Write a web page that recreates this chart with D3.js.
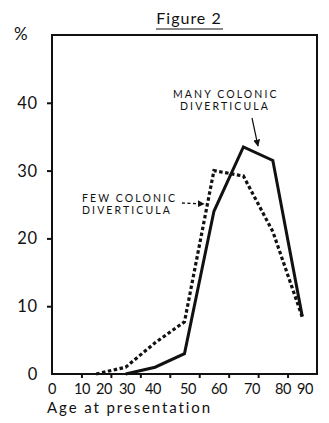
<!DOCTYPE html>
<html>
<head>
<meta charset="utf-8">
<script src="https://cdn.jsdelivr.net/npm/d3@7"></script>
<style>
  html, body { margin: 0; padding: 0; background: #fff; }
  svg { display: block; }
  text { font-family: Lato, "DejaVu Sans", sans-serif; fill: #111; }
</style>
</head>
<body>
<svg id="chart" width="329" height="423"></svg>
<script>
// ---- data ----
const ages = [15, 25, 35, 45, 55, 65, 75, 85];
const manyColonic = [null, 0, 1, 3, 24, 33.5, 31.5, 8.5];
const fewColonic = [0, 1, 4.6, 7.7, 30, 29.2, 21, 8.4];
const xTickValues = [0, 10, 20, 30, 40, 50, 60, 70, 80, 90];
const xTickLabels = ["0", "10", "20", "30", "40", "50", "60", "70", "80", "90"];
const yTickValues = [0, 10, 20, 30, 40];
const yTickLabels = ["0", "10", "20", "30", "40"];

(function () {
const svg = d3.select("#chart");
const mLeft = 52, mRight = 317, mTop = 35, mBottom = 374;

const x = d3.scaleLinear().domain([0, 90]).range([mLeft, mRight]);
const y = d3.scaleLinear().domain([0, 50]).range([mBottom, mTop]);

// typeset label positions in the original are slightly off the ticks
const xLabelPos = d3.scaleLinear()
  .domain([0, 10, 20, 30, 40, 50, 60, 70, 80, 90])
  .range([52, 82, 104, 127, 153, 188, 219, 252, 283, 305]);

// frame
svg.append("rect")
  .attr("x", mLeft).attr("y", mTop)
  .attr("width", mRight - mLeft).attr("height", mBottom - mTop)
  .attr("fill", "none").attr("stroke", "#111").attr("stroke-width", 2);

// y axis ticks
const yAxis = d3.axisLeft(y).tickValues(yTickValues.slice(1)).tickSize(5).tickFormat("");
const gy = svg.append("g").attr("transform", `translate(${mLeft},0)`).call(yAxis);
gy.select(".domain").remove();
gy.selectAll(".tick line").attr("stroke", "#111").attr("stroke-width", 2);

svg.append("g").selectAll("text")
  .data(yTickValues)
  .join("text")
  .attr("x", 38)
  .attr("y", d => y(d) + 6)
  .attr("text-anchor", "end")
  .attr("font-size", 16.5)
  .attr("letter-spacing", 0.8)
  .text((d, i) => yTickLabels[i]);

// percent sign
svg.append("text").attr("x", 14).attr("y", 40)
  .attr("font-size", 17).text("%");

// x axis ticks
const xAxis = d3.axisBottom(x).tickValues(xTickValues.slice(1, -1)).tickSize(4).tickFormat("");
const gx = svg.append("g").attr("transform", `translate(0,${mBottom})`).call(xAxis);
gx.select(".domain").remove();
gx.selectAll(".tick line").attr("stroke", "#111").attr("stroke-width", 2);

svg.append("g").selectAll("text")
  .data(xTickValues)
  .join("text")
  .attr("x", d => xLabelPos(d))
  .attr("y", 394)
  .attr("text-anchor", "middle")
  .attr("font-size", 14.5)
  .attr("letter-spacing", -0.3)
  .text((d, i) => xTickLabels[i]);

svg.append("text").attr("x", 47).attr("y", 413)
  .attr("font-size", 15).attr("letter-spacing", 1.9)
  .text("Age at presentation");

// title
svg.append("text").attr("x", 189).attr("y", 24)
  .attr("text-anchor", "middle").attr("font-size", 16).attr("letter-spacing", 1)
  .text("Figure 2");
svg.append("line").attr("x1", 156).attr("x2", 223).attr("y1", 29).attr("y2", 29)
  .attr("stroke", "#111").attr("stroke-width", 1.2);

// lines
const lineGen = d3.line()
  .defined(d => d[1] !== null)
  .x(d => x(d[0])).y(d => y(d[1]));

svg.append("path")
  .datum(ages.map((a, i) => [a, fewColonic[i]]))
  .attr("d", lineGen)
  .attr("fill", "none").attr("stroke", "#111").attr("stroke-width", 3.2)
  .attr("stroke-dasharray", "3.5,2.5");

svg.append("path")
  .datum(ages.map((a, i) => [a, manyColonic[i]]))
  .attr("d", lineGen)
  .attr("fill", "none").attr("stroke", "#111").attr("stroke-width", 3)
  .attr("stroke-linejoin", "miter");

// annotations
svg.append("defs").append("marker")
  .attr("id", "arr").attr("viewBox", "0 0 10 10")
  .attr("refX", 9).attr("refY", 5)
  .attr("markerWidth", 7).attr("markerHeight", 7)
  .attr("markerUnits", "userSpaceOnUse")
  .attr("orient", "auto")
  .append("path").attr("d", "M0,0 L10,5 L0,10 z").attr("fill", "#111");

const ann = svg.append("g").attr("font-size", 10.5).attr("letter-spacing", 2.1);
ann.append("text").attr("x", 173).attr("y", 98).text("MANY COLONIC");
ann.append("text").attr("x", 180).attr("y", 110).text("DIVERTICULA");
svg.append("line").attr("x1", 252).attr("y1", 118).attr("x2", 258).attr("y2", 146)
  .attr("stroke", "#111").attr("stroke-width", 1.2).attr("marker-end", "url(#arr)");

ann.append("text").attr("x", 82).attr("y", 202).text("FEW COLONIC");
ann.append("text").attr("x", 82).attr("y", 214).text("DIVERTICULA");
svg.append("line").attr("x1", 182).attr("y1", 203).attr("x2", 204).attr("y2", 204)
  .attr("stroke", "#111").attr("stroke-width", 1.3).attr("stroke-dasharray", "3,2.5")
  .attr("marker-end", "url(#arr)");
})();
</script>
</body>
</html>
